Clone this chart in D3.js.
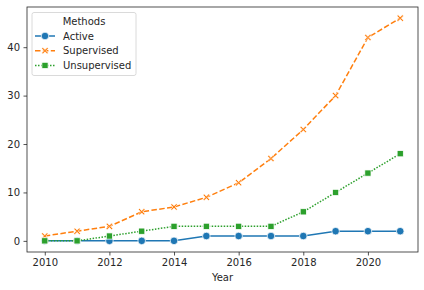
<!DOCTYPE html>
<html>
<head>
<meta charset="utf-8">
<script src="https://cdn.jsdelivr.net/npm/d3@7"></script>
<style>
  body { margin: 0; background: #fff; }
  text { font-family: "DejaVu Sans", sans-serif; fill: #262626; }
</style>
</head>
<body>
<div id="chart"></div>
<script>
const WIDTH = 424;
const HEIGHT = 290;

const years = [2010, 2011, 2012, 2013, 2014, 2015, 2016, 2017, 2018, 2019, 2020, 2021];
const methods = ['Active', 'Supervised', 'Unsupervised'];
const active = [0, 0, 0, 0, 0, 1, 1, 1, 1, 2, 2, 2];
const supervised = [1, 2, 3, 6, 7, 9, 12, 17, 23, 30, 42, 46];
const unsupervised = [0, 0, 1, 2, 3, 3, 3, 3, 6, 10, 14, 18];
const xTicks = [2010, 2012, 2014, 2016, 2018, 2020];
const yTicks = [0, 10, 20, 30, 40];

const colors = ['#1f77b4', '#ff7f0e', '#2ca02c'];
const dashes = [null, '5.5,2.4', '1.5,1.5'];
const seriesValues = [active, supervised, unsupervised];

const margin = {top: 7, right: 6, bottom: 38, left: 27};
const innerW = WIDTH - margin.left - margin.right;
const innerH = HEIGHT - margin.top - margin.bottom;

const svg = d3.select('#chart').append('svg')
  .attr('width', WIDTH)
  .attr('height', HEIGHT);

const g = svg.append('g')
  .attr('transform', `translate(${margin.left}, ${margin.top})`);

const x = d3.scaleLinear().domain([2009.45, 2021.55]).range([0, innerW]);
const y = d3.scaleLinear().domain([-2.3, 48.3]).range([innerH, 0]);

// axes
const xAxis = g.append('g')
  .attr('transform', `translate(0, ${innerH})`)
  .call(d3.axisBottom(x).tickValues(xTicks).tickFormat(d3.format('d')).tickSize(3.5).tickPadding(3.5));
const yAxis = g.append('g')
  .call(d3.axisLeft(y).tickValues(yTicks).tickSize(3.5).tickPadding(3.5));

[xAxis, yAxis].forEach(a => {
  a.select('.domain').remove();
  a.selectAll('.tick line').attr('stroke', '#262626').attr('stroke-width', 0.8);
  a.selectAll('.tick text').attr('font-size', 10).style('font-family', '"DejaVu Sans", sans-serif').attr('fill', '#262626');
});

g.append('rect')
  .attr('width', innerW).attr('height', innerH)
  .attr('fill', 'none').attr('stroke', '#262626').attr('stroke-width', 0.8);

g.append('text')
  .attr('x', innerW / 2).attr('y', innerH + 29)
  .attr('text-anchor', 'middle').attr('font-size', 10)
  .text('Year');

const line = d3.line()
  .x((d, i) => x(years[i]))
  .y(d => y(d));

// filled X marker, like matplotlib's 'X'
const xMarker = (() => {
  const a = 3.3, w = 1.1;
  const pts = [[-a + w, -a], [0, -w], [a - w, -a], [a, -a + w], [w, 0], [a, a - w],
               [a - w, a], [0, w], [-a + w, a], [-a, a - w], [-w, 0], [-a, -a + w]];
  return 'M' + pts.map(p => p.join(',')).join('L') + 'Z';
})();

function drawMarker(sel, k, cx, cy) {
  if (k === 0) {
    sel.append('circle').attr('cx', cx).attr('cy', cy).attr('r', 3.8)
      .attr('fill', colors[k]).attr('stroke', '#fff').attr('stroke-width', 0.75);
  } else if (k === 1) {
    sel.append('path').attr('d', xMarker)
      .attr('transform', `translate(${cx},${cy})`)
      .attr('fill', colors[k]).attr('stroke', '#fff').attr('stroke-width', 0.6);
  } else {
    sel.append('rect').attr('x', cx - 3.1).attr('y', cy - 3.1).attr('width', 6.2).attr('height', 6.2)
      .attr('fill', colors[k]).attr('stroke', '#fff').attr('stroke-width', 0.75);
  }
}

seriesValues.forEach((vals, k) => {
  const s = g.append('g');
  s.append('path')
    .datum(vals)
    .attr('d', line)
    .attr('fill', 'none')
    .attr('stroke', colors[k])
    .attr('stroke-width', 1.5)
    .attr('stroke-dasharray', dashes[k]);
  vals.forEach((v, i) => drawMarker(s, k, x(years[i]), y(v)));
});

// legend
const lg = g.append('g').attr('transform', 'translate(5, 5.5)');
lg.append('rect')
  .attr('width', 104).attr('height', 63).attr('rx', 2)
  .attr('fill', '#fff').attr('fill-opacity', 0.8)
  .attr('stroke', '#d0d0d0').attr('stroke-width', 0.8);
lg.append('text').attr('x', 52).attr('y', 12).attr('text-anchor', 'middle')
  .attr('font-size', 10).text('Methods');
methods.forEach((m, k) => {
  const ly = 23.5 + k * 14.7;
  lg.append('line').attr('x1', 3).attr('x2', 23).attr('y1', ly).attr('y2', ly)
    .attr('stroke', colors[k]).attr('stroke-width', 1.5).attr('stroke-dasharray', dashes[k]);
  drawMarker(lg, k, 13, ly);
  lg.append('text').attr('x', 31).attr('y', ly + 3.6).attr('font-size', 10).text(m);
});
</script>
</body>
</html>
